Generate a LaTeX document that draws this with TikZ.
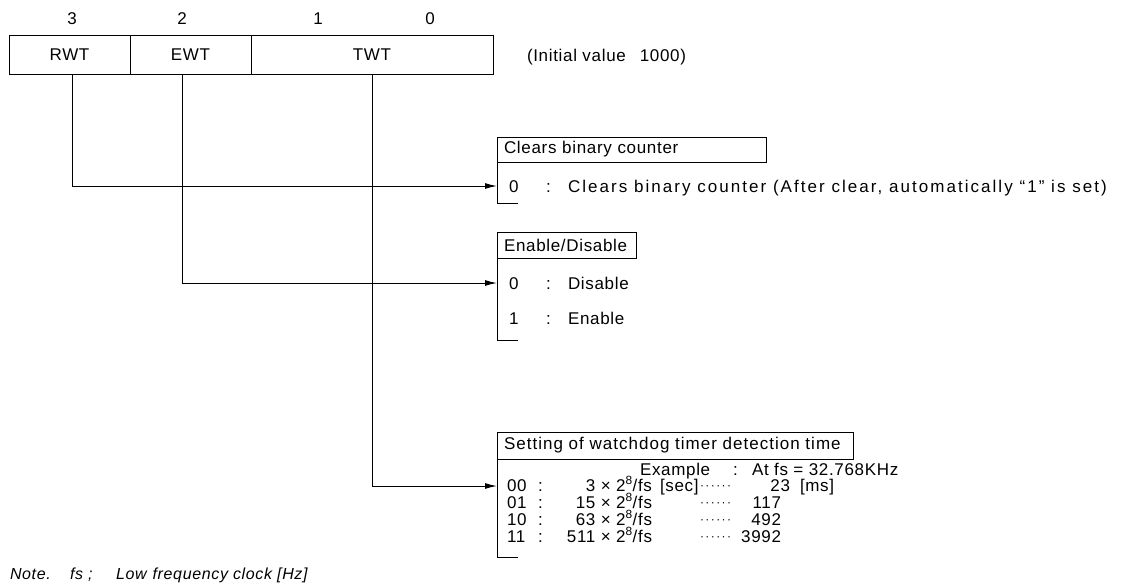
\documentclass[tikz,border=0pt]{standalone}
\usepackage{fontspec}
\setmainfont[LetterSpace=4]{Liberation Sans}
\usetikzlibrary{arrows.meta}
\begin{document}
\begin{tikzpicture}[x=1pt,y=-1pt,
  every node/.style={font=\fontsize{17}{19}\selectfont, inner sep=0pt, outer sep=0pt},
  field/.style={draw, line width=1pt, minimum height=39pt},
  hdr/.style={draw, line width=1pt, anchor=north west, inner xsep=7pt, align=left, minimum height=#1},
  line/.style={line width=1pt},
  arr/.style={line width=1pt, -{Latex[length=12pt,width=6pt]}},
  txt/.style={anchor=base west},
  rtxt/.style={anchor=base east},
  dots/.style={anchor=base west, font=\fontsize{12}{14}\selectfont\addfontfeature{LetterSpace=12}},
  note/.style={anchor=base west, font=\fontsize{16}{18}\selectfont\itshape}
]
\useasboundingbox (0,0) rectangle (1133,587);
% register
\node[field, minimum width=121pt] (rwt) at (69.5,54.5) {RWT};
\node[field, minimum width=121pt] (ewt) at (190.5,54.5) {EWT};
\node[field, minimum width=242pt] (twt) at (372,54.5) {TWT};
\node[anchor=base] (b3) at (72,24) {3};
\node[anchor=base] (b2) at (182,24) {2};
\node[anchor=base] (b1) at (318,24) {1};
\node[anchor=base] (b0) at (430,24) {0};
\node[txt] (init) at (527,61) {(Initial value\hspace{14pt}1000)};
% box 1
\node[hdr=25pt, text width=255pt] (h1) at (497,137) {Clears binary counter};
\coordinate (a1) at (497,186);
\coordinate (e1) at (497,203);
\draw[line] (h1.south west) -- (e1) -- ++(21,0);
\node[txt] (r10) at (509,192) {0};
\node[txt] (c10) at (546,192) {:};
\node[txt] (t10) at (568,192) {\addfontfeature{LetterSpace=12}Clears binary counter (After clear, automatically ``1'' is set)};
\draw[arr] (rwt.south -| b3) |- (a1);
% box 2
\node[hdr=26pt, text width=125pt] (h2) at (497,232) {Enable/Disable};
\coordinate (a2) at (497,283);
\coordinate (e2) at (497,340);
\draw[line] (h2.south west) -- (e2) -- ++(21,0);
\node[txt] (r20) at (509,289) {0};
\node[txt] (c20) at (546,289) {:};
\node[txt] (t20) at (568,289) {Disable};
\node[txt] (r21) at (509,324) {1};
\node[txt] (c21) at (546,324) {:};
\node[txt] (t21) at (568,324) {Enable};
\draw[arr] (ewt.south -| b2) |- (a2);
% box 3
\node[hdr=27pt, text width=342pt] (h3) at (497,432) {\addfontfeature{LetterSpace=6}Setting of watchdog timer detection time};
\coordinate (a3) at (497,486);
\coordinate (e3) at (497,557);
\draw[line] (h3.south west) -- (e3) -- ++(21,0);
\node[txt] (ex) at (640,475) {Example};
\node[txt] (exc) at (733,475) {:};
\node[txt] (exf) at (752,475) {At fs = 32.768KHz};
\node[txt] (k0) at (507,491) {00};
\node[txt] (k1) at (507,508) {01};
\node[txt] (k2) at (507,525) {10};
\node[txt] (k3) at (507,542) {11};
\node[txt] (q0) at (538,491) {:};
\node[txt] (q1) at (538,508) {:};
\node[txt] (q2) at (538,525) {:};
\node[txt] (q3) at (538,542) {:};
\node[rtxt] (f0) at (652,491) {3 × 2\textsuperscript{8}/fs};
\node[rtxt] (f1) at (652,508) {15 × 2\textsuperscript{8}/fs};
\node[rtxt] (f2) at (652,525) {63 × 2\textsuperscript{8}/fs};
\node[rtxt] (f3) at (652,542) {511 × 2\textsuperscript{8}/fs};
\node[txt] (sec) at (660,491) {[sec]};
\node[dots] (d0) at (700,489) {······};
\node[dots] (d1) at (700,506) {······};
\node[dots] (d2) at (700,523) {······};
\node[dots] (d3) at (700,540) {······};
\node[rtxt] (v0) at (790,491) {23};
\node[txt] (ms) at (800,491) {[ms]};
\node[rtxt] (v1) at (781,508) {117};
\node[rtxt] (v2) at (781,525) {492};
\node[rtxt] (v3) at (781,542) {3992};
\draw[arr] (twt.south) |- (a3);
% note
\node[note] (n1) at (10,579) {Note.};
\node[note] (n2) at (70,579) {fs ;};
\node[note] (n3) at (116,579) {Low\hspace{6pt}frequency clock [Hz]};
\end{tikzpicture}
\end{document}
